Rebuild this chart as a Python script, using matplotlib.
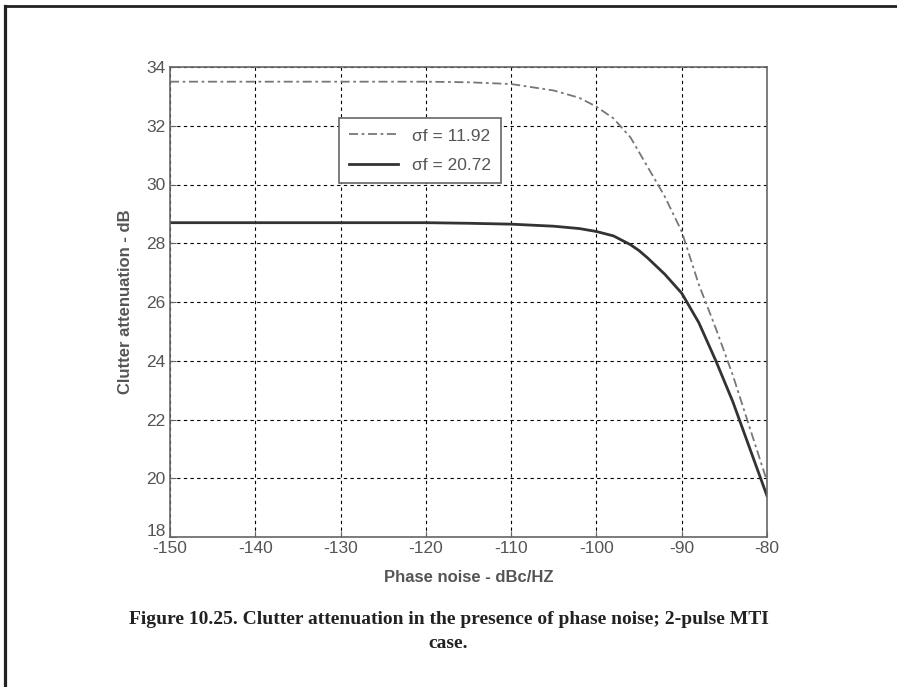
import numpy as np
import matplotlib
matplotlib.use("Agg")
import matplotlib.pyplot as plt
from matplotlib.lines import Line2D
from matplotlib.transforms import ScaledTranslation

plt.rcParams["axes.unicode_minus"] = False

# phase noise (dBc/Hz)
bruit = [-150, -140, -130, -120, -115, -110, -105, -102, -100, -98, -96, -95,
         -94, -92, -90, -88, -86, -84, -82, -80]

# sigma f = 11.92
att_1192 = [33.5, 33.5, 33.5, 33.5, 33.48, 33.42, 33.2, 32.95, 32.65, 32.25,
            31.6, 31.1, 30.6, 29.6, 28.4, 26.6, 25.1, 23.5, 21.7, 19.9]
# sigma f = 20.72
att_2072 = [28.7, 28.7, 28.7, 28.7, 28.68, 28.65, 28.58, 28.5, 28.4, 28.25,
            27.95, 27.75, 27.5, 26.95, 26.3, 25.3, 24.0, 22.6, 21.0, 19.4]

labels = ["\u03c3f = 11.92", "\u03c3f = 20.72"]

W, H = 897, 687
fig = plt.figure(figsize=(W / 100, H / 100), dpi=100)
fig.patch.set_facecolor("white")

ax = fig.add_axes([170 / W, 1 - 537 / H, (767 - 170) / W, (537 - 67) / H])

ax.plot(bruit, att_1192, color="#777777", lw=1.3, linestyle=(0, (5, 2, 1.5, 2)), label=labels[0])
ax.plot(bruit, att_2072, color="#333333", lw=2.0, linestyle="-", label=labels[1])

ax.set_xlim(-150, -80)
ax.set_ylim(18, 34)
ax.set_xticks(np.arange(-150, -79, 10))
ax.set_yticks(np.arange(18, 35, 2))

ax.grid(True, color="black", linestyle=(0, (3, 3)), lw=0.8)
for s in ax.spines.values():
    s.set_color("#666666")
    s.set_linewidth(1.2)
ax.tick_params(direction="in", length=4, color="#666666", labelcolor="#555555",
               labelsize=12.5, pad=3)
for t in ax.get_xticklabels() + ax.get_yticklabels():
    t.set_family("Liberation Sans")

# le "18" remonte un peu pour ne pas chevaucher le "-150"
lab18 = ax.get_yticklabels()[0]
lab18.set_transform(lab18.get_transform() + ScaledTranslation(0, 5 / 72, fig.dpi_scale_trans))

ax.set_xlabel("Phase noise - dBc/HZ", fontsize=12, fontweight="bold", color="#555555",
              family="Liberation Sans", labelpad=10)
ax.set_ylabel("Clutter attenuation - dB", fontsize=12, fontweight="bold", color="#555555",
              family="Liberation Sans", labelpad=10)

leg = ax.legend(loc="upper left", bbox_to_anchor=(339 / W, 1 - 118 / H),
                bbox_transform=fig.transFigure, borderaxespad=0, fancybox=False,
                framealpha=1, edgecolor="#666666", prop={"family": "Liberation Sans", "size": 12.5},
                handlelength=2.8, labelspacing=0.8, borderpad=0.6)
for t in leg.get_texts():
    t.set_color("#555555")
leg.get_frame().set_linewidth(1.2)

fig.text(0.5, 1 - 620 / H, "Figure 10.25. Clutter attenuation in the presence of phase noise; 2-pulse MTI",
         ha="center", va="center", family="Liberation Serif", fontweight="bold", fontsize=14, color="#222222")
fig.text(0.5, 1 - 643 / H, "case.", ha="center", va="center", family="Liberation Serif",
         fontweight="bold", fontsize=14, color="#222222")

# cadre de la page
fig.add_artist(Line2D([5 / W, 5 / W], [0, 1 - 6 / H], color="#222222", lw=2.3, transform=fig.transFigure))
fig.add_artist(Line2D([5 / W, 1], [1 - 6 / H, 1 - 6 / H], color="#222222", lw=2.0, transform=fig.transFigure))

fig.savefig("out.png", dpi=100)
